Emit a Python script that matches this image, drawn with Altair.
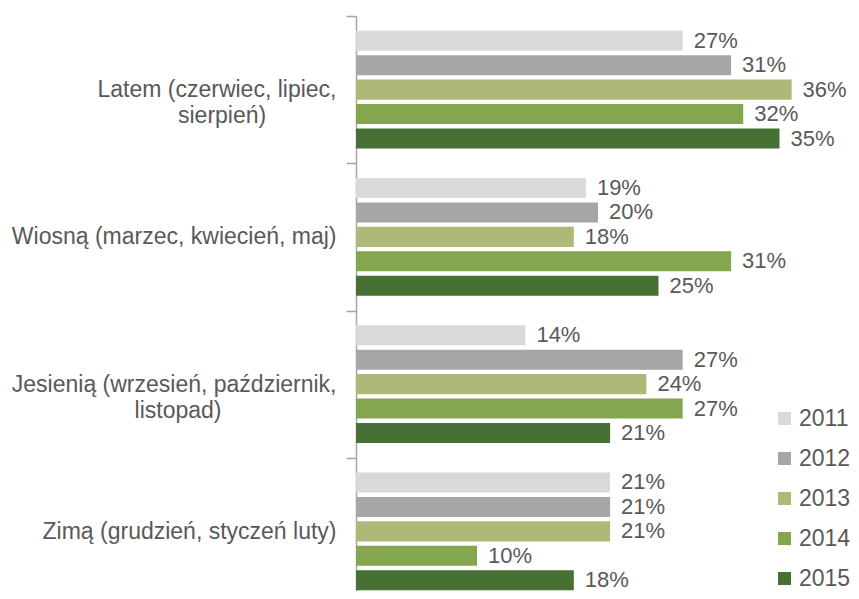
import altair as alt
import pandas as pd

NB = "\u00a0"
ZW = "\u200b"
categories = [
    "Latem (czerwiec, lipiec,\nsierpień)" + NB * 11 + ZW,
    "Wiosną (marzec, kwiecień, maj)",
    "Jesienią (wrzesień, październik,\nlistopad)" + NB * 18 + ZW,
    "Zimą (grudzień, styczeń luty)",
]
years = ["2011", "2012", "2013", "2014", "2015"]
colors = ["#D9D9D9", "#A6A6A6", "#ADB978", "#84A64E", "#467034"]

v2011 = [27, 19, 14, 21]
v2012 = [31, 20, 27, 21]
v2013 = [36, 18, 24, 21]
v2014 = [32, 31, 27, 10]
v2015 = [35, 25, 21, 18]

series = {"2011": v2011, "2012": v2012, "2013": v2013, "2014": v2014, "2015": v2015}
rows = []
for y, vals in series.items():
    for c, v in zip(categories, vals):
        rows.append({"cat": c, "year": y, "value": v, "label": f"{v}%"})
df = pd.DataFrame(rows)

FONT = "Liberation Sans"

base = alt.Chart(df).encode(
    y=alt.Y(
        "cat:N",
        sort=categories,
        scale=alt.Scale(paddingInner=0, paddingOuter=0),
        axis=alt.Axis(
            title=None,
            labelExpr="split(datum.label, '\\n')",
            tickBand="extent",
            tickSize=10,
            tickColor="#A6A6A6",
            tickWidth=1.5,
            domainColor="#A6A6A6",
            domainWidth=1.5,
            labelFontSize=23,
            labelFont=FONT,
            labelColor="#595959",
            labelPadding=10,
            labelLineHeight=26,
            labelLimit=500,
        ),
    ),
    yOffset=alt.YOffset(
        "year:N", sort=years, scale=alt.Scale(paddingInner=0.18, paddingOuter=0.6)
    ),
    x=alt.X("value:Q", scale=alt.Scale(domain=[0, 40], nice=False), axis=None),
)

bars = base.mark_bar().encode(
    color=alt.Color(
        "year:N",
        sort=years,
        scale=alt.Scale(domain=years, range=colors),
        legend=alt.Legend(
            title=None,
            orient="none",
            legendX=417,
            legendY=391,
            symbolType="square",
            symbolSize=169,
            symbolStrokeWidth=0,
            labelFontSize=23,
            labelFont=FONT,
            labelColor="#595959",
            labelOffset=3,
            rowPadding=16,
            padding=0,
        ),
    )
)

text = base.mark_text(
    align="left", baseline="middle", dx=11, fontSize=22, font=FONT, color="#595959"
).encode(text=alt.Text("label:N"))

chart = (
    alt.layer(bars, text)
    .properties(
        width=484,
        height=589,
        autosize=alt.AutoSizeParams(type="none"),
        padding={"left": 348, "top": 8, "right": 11, "bottom": -14},
    )
    .configure_view(stroke=None)
)

chart.save("out.html", embed_options={"renderer": "svg", "actions": False})
